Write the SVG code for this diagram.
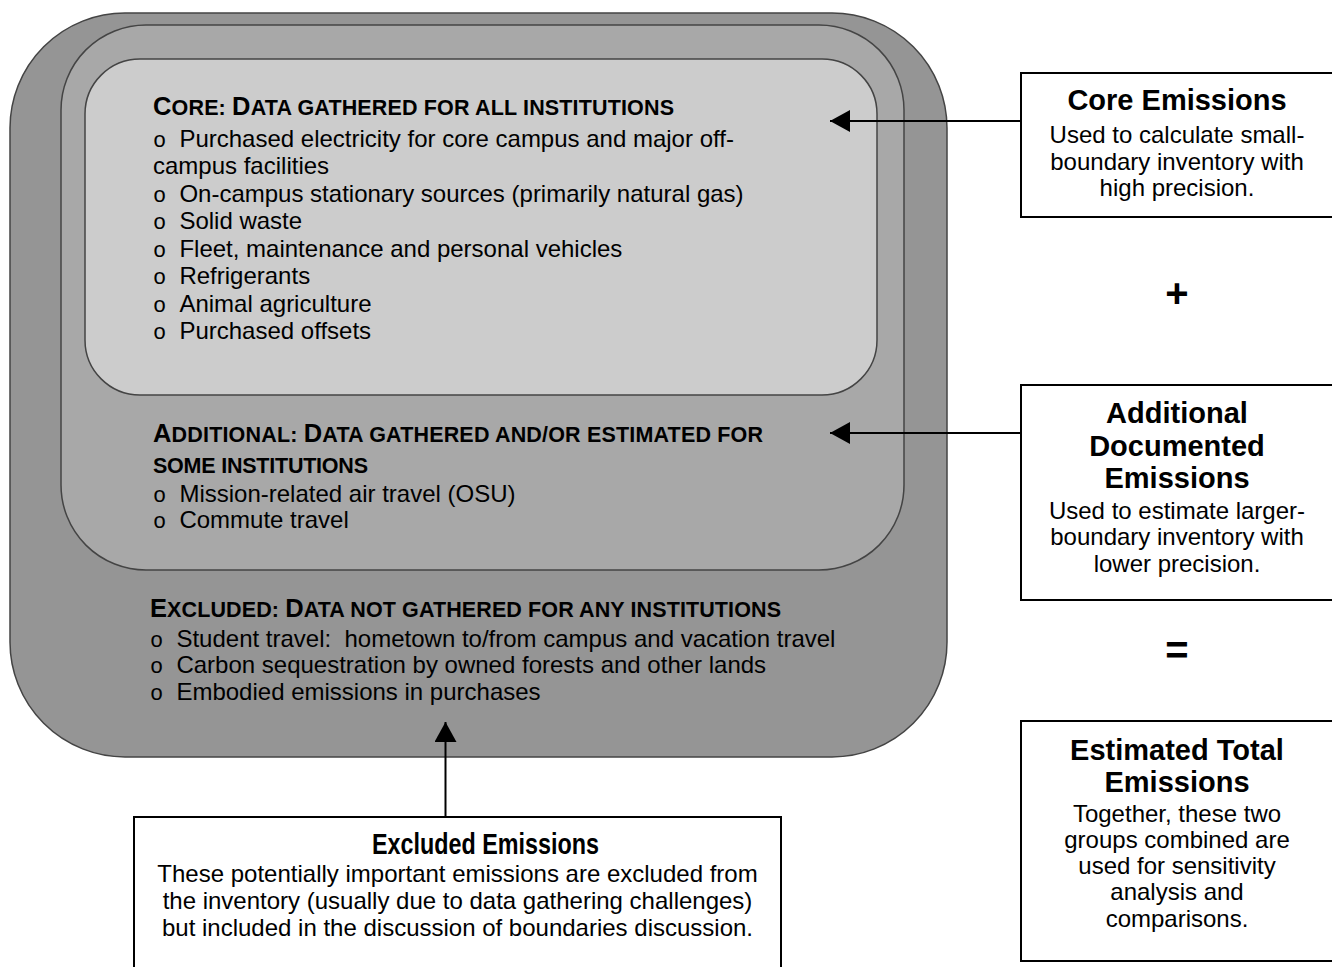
<svg xmlns="http://www.w3.org/2000/svg" width="1332" height="967" viewBox="0 0 1332 967">
<style>
.b{font-family:"Liberation Sans",Arial,sans-serif;font-size:24px;fill:#000}
.h{font-family:"Liberation Sans",Arial,sans-serif;font-weight:bold;fill:#000}
.sc{font-size:21.5px}
.lc{font-size:25.5px}
.t{font-family:"Liberation Sans",Arial,sans-serif;font-weight:bold;font-size:29px;fill:#000;text-anchor:middle}
.d{font-family:"Liberation Sans",Arial,sans-serif;font-size:24px;fill:#000;text-anchor:middle}
.box{fill:#fff;stroke:#000;stroke-width:2}
.zone{stroke:#444;stroke-width:1.5}
.bul{font-family:"Liberation Mono","Courier New",monospace;font-size:22px}
.conn{stroke:#000;stroke-width:2;fill:none}
</style>
<defs>
<marker id="ah" markerWidth="20" markerHeight="22" refX="20" refY="11" orient="auto" markerUnits="userSpaceOnUse">
<path d="M0,0 L20,11 L0,22 Z" fill="#000"/>
</marker>
</defs>
<rect width="1332" height="967" fill="#fff"/>

<g id="excluded-zone">
<rect class="zone" x="10" y="13" width="937" height="744" rx="115" ry="115" fill="#959595"/>
<text class="h" x="150" y="617" textLength="631"><tspan class="lc">E</tspan><tspan class="sc">XCLUDED: </tspan><tspan class="lc">D</tspan><tspan class="sc">ATA NOT GATHERED FOR ANY INSTITUTIONS</tspan></text>
<text class="b" x="150" y="647" style="white-space:pre"><tspan class="bul">o </tspan>Student travel:  hometown to/from campus and vacation travel</text>
<text class="b" x="150" y="673"><tspan class="bul">o </tspan>Carbon sequestration by owned forests and other lands</text>
<text class="b" x="150" y="700"><tspan class="bul">o </tspan>Embodied emissions in purchases</text>
</g>

<g id="additional-zone">
<rect class="zone" x="61" y="25" width="843" height="545" rx="85" ry="85" fill="#a8a8a8"/>
<text class="h" x="153" y="442" textLength="610"><tspan class="lc">A</tspan><tspan class="sc">DDITIONAL: </tspan><tspan class="lc">D</tspan><tspan class="sc">ATA GATHERED AND/OR ESTIMATED FOR</tspan></text>
<text class="h sc" x="153" y="473" textLength="215">SOME INSTITUTIONS</text>
<text class="b" x="153" y="502"><tspan class="bul">o </tspan>Mission-related air travel (OSU)</text>
<text class="b" x="153" y="528"><tspan class="bul">o </tspan>Commute travel</text>
</g>

<g id="core-zone">
<rect class="zone" x="85" y="59" width="792" height="336" rx="55" ry="55" fill="#cccccc"/>
<text class="h" x="153" y="115" textLength="521"><tspan class="lc">C</tspan><tspan class="sc">ORE: </tspan><tspan class="lc">D</tspan><tspan class="sc">ATA GATHERED FOR ALL INSTITUTIONS</tspan></text>
<text class="b" x="153" y="147"><tspan class="bul">o </tspan>Purchased electricity for core campus and major off-</text>
<text class="b" x="153" y="174">campus facilities</text>
<text class="b" x="153" y="202"><tspan class="bul">o </tspan>On-campus stationary sources (primarily natural gas)</text>
<text class="b" x="153" y="229"><tspan class="bul">o </tspan>Solid waste</text>
<text class="b" x="153" y="257"><tspan class="bul">o </tspan>Fleet, maintenance and personal vehicles</text>
<text class="b" x="153" y="284"><tspan class="bul">o </tspan>Refrigerants</text>
<text class="b" x="153" y="312"><tspan class="bul">o </tspan>Animal agriculture</text>
<text class="b" x="153" y="339"><tspan class="bul">o </tspan>Purchased offsets</text>
</g>

<g id="core-emissions">
<rect class="box" x="1021" y="73" width="320" height="144"/>
<text class="t" x="1177" y="110">Core Emissions</text>
<text class="d" x="1177" y="143">Used to calculate small-</text>
<text class="d" x="1177" y="170">boundary inventory with</text>
<text class="d" x="1177" y="196">high precision.</text>
</g>

<text id="plus" x="1177" y="307" font-family="Liberation Sans,Arial,sans-serif" font-weight="bold" font-size="40" text-anchor="middle">+</text>

<g id="additional-emissions">
<rect class="box" x="1021" y="385" width="320" height="215"/>
<text class="t" x="1177" y="423">Additional</text>
<text class="t" x="1177" y="456">Documented</text>
<text class="t" x="1177" y="488">Emissions</text>
<text class="d" x="1177" y="519">Used to estimate larger-</text>
<text class="d" x="1177" y="545">boundary inventory with</text>
<text class="d" x="1177" y="572">lower precision.</text>
</g>

<text id="equals" x="1177" y="664" font-family="Liberation Sans,Arial,sans-serif" font-weight="bold" font-size="40" text-anchor="middle">=</text>

<g id="total-emissions">
<rect class="box" x="1021" y="721" width="320" height="240"/>
<text class="t" x="1177" y="760">Estimated Total</text>
<text class="t" x="1177" y="792">Emissions</text>
<text class="d" x="1177" y="822">Together, these two</text>
<text class="d" x="1177" y="848">groups combined are</text>
<text class="d" x="1177" y="874">used for sensitivity</text>
<text class="d" x="1177" y="900">analysis and</text>
<text class="d" x="1177" y="927">comparisons.</text>
</g>

<g id="excluded-emissions">
<rect class="box" x="134" y="817" width="647" height="160"/>
<text class="t" x="485.5" y="854" textLength="227" lengthAdjust="spacingAndGlyphs">Excluded Emissions</text>
<text class="d" x="457.5" y="882">These potentially important emissions are excluded from</text>
<text class="d" x="457.5" y="909">the inventory (usually due to data gathering challenges)</text>
<text class="d" x="457.5" y="936">but included in the discussion of boundaries discussion.</text>
</g>

<g id="connectors">
<line class="conn" x1="1021" y1="121" x2="830" y2="121" marker-end="url(#ah)"/>
<line class="conn" x1="1021" y1="433" x2="830" y2="433" marker-end="url(#ah)"/>
<line class="conn" x1="445.5" y1="817" x2="445.5" y2="722" marker-end="url(#ah)"/>
</g>
</svg>
